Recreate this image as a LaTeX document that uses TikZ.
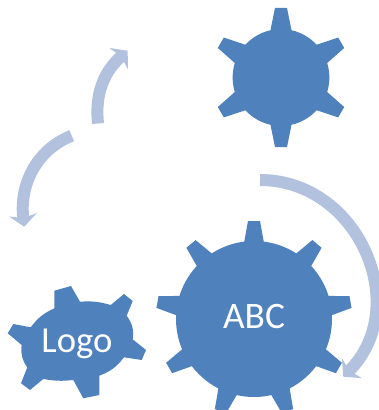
\documentclass[tikz,border=0pt]{standalone}
\usepackage{fontspec}
\setmainfont{Carlito}
\usetikzlibrary{arrows.meta,shapes,positioning}

\definecolor{gearblue}{HTML}{4F81BD}
\definecolor{arrowblue}{HTML}{B2C2DE}

\tikzset{
    gearbody/.style={draw=none, fill=gearblue, circle, inner sep=0pt, text=white, font=\fontsize{28}{28}\selectfont},
    gearlabel/.style={inner sep=0pt, text=white, font=\fontsize{27.5}{28}\selectfont},
    turnarrow/.style={draw=arrowblue, line width=9pt, -{Stealth[length=9pt, width=21pt, inset=2.5pt]}}
}

\begin{document}
\begin{tikzpicture}[x=0.75pt, y=0.75pt]
    \useasboundingbox (0,0) rectangle (378,-410);

    % top right gear
    \node (topgear) [gearbody, minimum size=72.6pt] at (281,-77.5) {};
    \foreach \a in {90,30,-30,-90,-150,150} {
        \fill[gearblue, shift={(topgear.center)}, rotate=\a-90] (-11,45) -- (-6,69.5) -- (6,69.5) -- (11,45) -- cycle;
    }

    % big gear
    \node (abcgear) [gearbody, minimum size=117pt, text depth=3.75pt] at (254,-319) {ABC};
    \foreach \a in {90,50,10,-30,-70,-110,-150,170,130} {
        \fill[gearblue, shift={(abcgear.center)}, rotate=\a-90] (-10,76) -- (-6,98) -- (6,98) -- (10,76) -- cycle;
    }

    % small gear, skewed
    \fill[gearblue] (54.3,-290.7) -- (71,-286) -- (80,-301.7)
        to[bend left=10] (110.7,-305) -- (124,-294) -- (132.7,-301) -- (126.7,-315.7)
        to[bend left=22] (132.7,-339.3) -- (146,-350) -- (141.7,-360) -- (124,-357.3)
        to[bend left=16] (99.3,-375.7) -- (99.3,-395) -- (83.3,-398.3) -- (73.3,-380)
        to[bend left=8] (43.3,-379) -- (30,-390) -- (21,-383.3) -- (27.3,-367.3)
        to[bend left=22] (21.7,-345) -- (7.7,-333.3) -- (13.3,-324) -- (30.7,-327.3)
        to[bend left=14] (54.3,-308.3) -- cycle;
    \node (logogear) [gearlabel, anchor=base] at (77,-352.7) {Logo};

    % arrows
    \coordinate (bigstart) at (260,-180);
    \coordinate (bigend) at (343.3,-376.7);
    \coordinate (upstart) at (98,-123.5);
    \coordinate (upend) at (127.7,-50.7);
    \coordinate (leftstart) at (71.7,-135.7);
    \coordinate (leftend) at (24.3,-226.7);

    \draw [turnarrow] (bigstart) to[out=0, in=45, looseness=1.18] (bigend);
    \draw [turnarrow] (upstart) to[out=96, in=221] (upend);
    \draw [turnarrow] (leftstart) to[out=202, in=97] (leftend);
\end{tikzpicture}
\end{document}
